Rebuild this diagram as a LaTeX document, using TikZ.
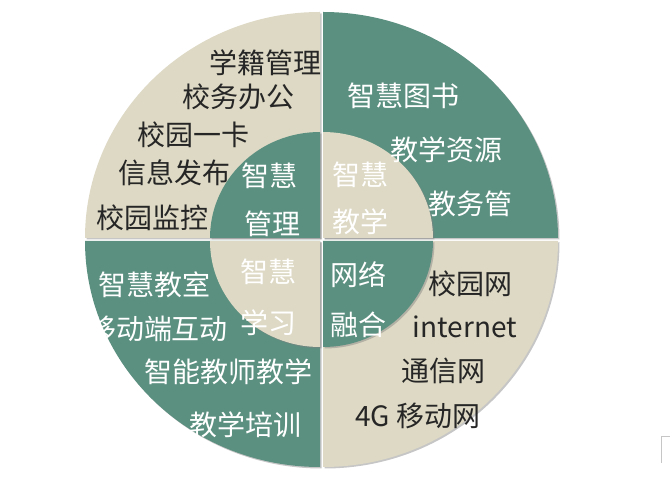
\documentclass[tikz,border=0pt]{standalone}
\usepackage{fontspec}
\setmainfont{Noto Sans CJK SC}
\usetikzlibrary{shadows}
\definecolor{quadteal}{RGB}{91,144,128}
\definecolor{quadtan}{RGB}{221,217,196}
\begin{document}
\begin{tikzpicture}[x=1pt,y=1pt,
    darktxt/.style={text=black!85, font=\fontsize{28}{30}\selectfont, inner sep=0pt},
    lighttxt/.style={text=white, font=\fontsize{28}{30}\selectfont, inner sep=0pt},
    sector/.style={drop shadow={shadow xshift=1.5pt, shadow yshift=-1.5pt, opacity=.45}}]
    \useasboundingbox (0,0) rectangle (670,501);
    % outer ring
    \fill[quadtan, sector] (320,263) -- ++(-235,0) arc[start angle=180, end angle=90, x radius=235, y radius=226] -- cycle;
    \fill[quadteal, sector] (323,263) -- ++(0,226) arc[start angle=90, end angle=0, x radius=235, y radius=226] -- cycle;
    \fill[quadteal, sector] (320,260) -- ++(-235,0) arc[start angle=180, end angle=270, x radius=235, y radius=226] -- cycle;
    \fill[quadtan, sector] (323,260) -- ++(0,-226) arc[start angle=270, end angle=360, x radius=235, y radius=226] -- cycle;
    % inner circle
    \fill[quadteal, sector] (320,263) -- ++(-110,0) arc[start angle=180, end angle=90, x radius=110, y radius=106] -- cycle;
    \fill[quadtan, sector] (323,263) -- ++(0,106) arc[start angle=90, end angle=0, x radius=110, y radius=106] -- cycle;
    \fill[quadtan, sector] (320,260) -- ++(-110,0) arc[start angle=180, end angle=270, x radius=110, y radius=106] -- cycle;
    \fill[quadteal, sector] (323,260) -- ++(0,-106) arc[start angle=270, end angle=360, x radius=110, y radius=106] -- cycle;

    % inner labels
    \node[lighttxt] (mgmtA) at (269,325) {智慧};
    \node[lighttxt] (mgmtB) at (272,277) {管理};
    \node[lighttxt] (teachA) at (360,326) {智慧};
    \node[lighttxt] (teachB) at (360,279) {教学};
    \node[lighttxt] (learnA) at (268,229) {智慧};
    \node[lighttxt] (learnB) at (268,178) {学习};
    \node[lighttxt] (netA) at (358,226) {网络};
    \node[lighttxt] (netB) at (358,176) {融合};

    % outer labels, top left
    \node[darktxt] (mgmt1) at (265,438) {学籍管理};
    \node[darktxt] (mgmt2) at (238,404) {校务办公};
    \node[darktxt] (mgmt3) at (193,366) {校园一卡};
    \node[darktxt] (mgmt4) at (174,328) {信息发布};
    \node[darktxt] (mgmt5) at (152,283) {校园监控};
    % top right
    \node[lighttxt] (teach1) at (403,405) {智慧图书};
    \node[lighttxt] (teach2) at (446,351) {教学资源};
    \node[lighttxt] (teach3) at (470,297) {教务管};
    % bottom left
    \node[lighttxt] (learn1) at (154,216) {智慧教室};
    \node[lighttxt] (learn2) at (158,172) {移动端互动};
    \node[lighttxt] (learn3) at (228,129) {智能教师教学};
    \node[lighttxt] (learn4) at (245,76) {教学培训};
    % bottom right
    \node[darktxt] (net1) at (470,217) {校园网};
    \node[darktxt] (net2) at (465,174) {internet};
    \node[darktxt] (net3) at (443,130) {通信网};
    \node[darktxt] (net4) at (418,85) {4G 移动网};

    \draw[gray!45] (670,65) -- (661,65) -- (661,38);
\end{tikzpicture}
\end{document}
